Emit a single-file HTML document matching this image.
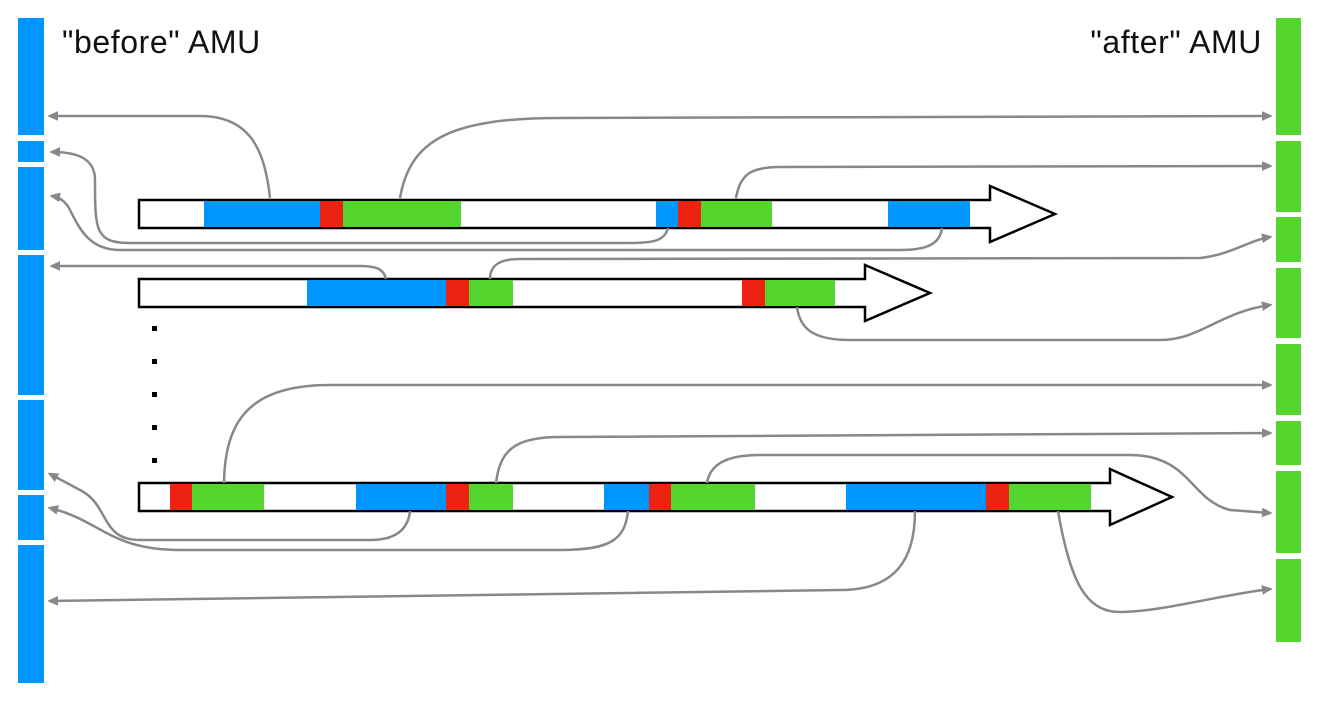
<!DOCTYPE html>
<html><head><meta charset="utf-8"><style>
html,body{margin:0;padding:0;background:#fff;width:1320px;height:706px;overflow:hidden}
svg{display:block}
text{font-family:"Liberation Sans",sans-serif;font-size:32px;letter-spacing:0.6px;fill:#111}
</style></head><body>
<svg width="1320" height="706" viewBox="0 0 1320 706">
<defs>
<marker id="ah" markerWidth="10" markerHeight="10" refX="8" refY="5" orient="auto-start-reverse" markerUnits="userSpaceOnUse">
<path d="M0,1 L9,5 L0,9 Z" fill="#888" stroke="#888" stroke-width="1.5"/>
</marker>
</defs>
<g fill="#0096FF">
<rect x="18" y="18" width="26" height="117"/><rect x="18" y="141" width="26" height="21"/>
<rect x="18" y="167" width="26" height="83"/><rect x="18" y="255" width="26" height="140"/>
<rect x="18" y="400" width="26" height="90"/><rect x="18" y="495" width="26" height="45"/>
<rect x="18" y="545" width="26" height="138"/>
</g>
<g fill="#55D62F">
<rect x="1276" y="18" width="25" height="117"/><rect x="1276" y="141" width="25" height="71"/>
<rect x="1276" y="217" width="25" height="45"/><rect x="1276" y="268" width="25" height="70"/>
<rect x="1276" y="344" width="25" height="71"/><rect x="1276" y="421" width="25" height="44"/>
<rect x="1276" y="471" width="25" height="82"/><rect x="1276" y="559" width="25" height="83"/>
</g>
<text x="62" y="53">"before" AMU</text>
<text x="1262" y="53" text-anchor="end">"after" AMU</text>

<g>
<path d="M139,200 H990 V186 L1055,214 L990,242 V228 H139 Z" fill="#fff" stroke="#000" stroke-width="2.5"/>
<rect x="204" y="201" width="116" height="26" fill="#0096FF"/><rect x="320" y="201" width="23" height="26" fill="#EE2211"/><rect x="343" y="201" width="118" height="26" fill="#55D62F"/>
<rect x="656" y="201" width="22" height="26" fill="#0096FF"/><rect x="678" y="201" width="23" height="26" fill="#EE2211"/><rect x="701" y="201" width="71" height="26" fill="#55D62F"/>
<rect x="888" y="201" width="82" height="26" fill="#0096FF"/>
</g>
<g>
<path d="M139,279 H865 V265 L930,293 L865,321 V307 H139 Z" fill="#fff" stroke="#000" stroke-width="2.5"/>
<rect x="307" y="280" width="139" height="26" fill="#0096FF"/><rect x="446" y="280" width="23" height="26" fill="#EE2211"/><rect x="469" y="280" width="44" height="26" fill="#55D62F"/>
<rect x="742" y="280" width="23" height="26" fill="#EE2211"/><rect x="765" y="280" width="70" height="26" fill="#55D62F"/>
</g>
<g>
<path d="M139,483 H1110 V469 L1172,497 L1110,525 V511 H139 Z" fill="#fff" stroke="#000" stroke-width="2.5"/>
<rect x="170" y="484" width="22" height="26" fill="#EE2211"/><rect x="192" y="484" width="72" height="26" fill="#55D62F"/>
<rect x="356" y="484" width="90" height="26" fill="#0096FF"/><rect x="446" y="484" width="23" height="26" fill="#EE2211"/><rect x="469" y="484" width="44" height="26" fill="#55D62F"/>
<rect x="604" y="484" width="45" height="26" fill="#0096FF"/><rect x="649" y="484" width="22" height="26" fill="#EE2211"/><rect x="671" y="484" width="84" height="26" fill="#55D62F"/>
<rect x="846" y="484" width="140" height="26" fill="#0096FF"/><rect x="986" y="484" width="23" height="26" fill="#EE2211"/><rect x="1009" y="484" width="82" height="26" fill="#55D62F"/>
</g>
<g fill="#000">
<rect x="152" y="326" width="5" height="5"/><rect x="152" y="359" width="5" height="5"/><rect x="152" y="392" width="5" height="5"/><rect x="152" y="425" width="5" height="5"/><rect x="152" y="458" width="5" height="5"/>
</g>
<g fill="none" stroke="#888" stroke-width="2.5">
<path d="M270,198 C265,150 250,116 200,116 L50,116" marker-end="url(#ah)"/>
<path d="M400,198 C410,140 450,118 560,118 L1270,116" marker-end="url(#ah)"/>
<path d="M736,198 C740,175 750,167 780,167 L1270,166" marker-end="url(#ah)"/>
<path d="M668,228 C665,240 655,243 630,243 L130,243 C95,243 95,230 95,180 C95,160 80,152 52,152" marker-end="url(#ah)"/>
<path d="M942,228 C940,245 925,250 900,250 L120,250 C90,250 80,230 70,210 C65,200 58,197 52,196" marker-end="url(#ah)"/>
<path d="M386,279 C384,270 378,266 360,266 L52,266" marker-end="url(#ah)"/>
<path d="M490,279 C490,265 500,259 520,259 L1200,258 C1230,255 1250,240 1270,237" marker-end="url(#ah)"/>
<path d="M797,307 C800,330 815,340 850,340 L1160,340 C1200,340 1220,312 1270,305" marker-end="url(#ah)"/>
<path d="M224,483 C225,420 250,385 330,385 L1270,385" marker-end="url(#ah)"/>
<path d="M496,483 C500,450 515,437 560,437 L1270,433" marker-end="url(#ah)"/>
<path d="M707,483 C710,465 725,455 760,455 L1130,455 C1190,455 1190,500 1230,510 L1270,513" marker-end="url(#ah)"/>
<path d="M410,511 C408,530 395,540 370,540 L140,540 C100,540 110,505 80,490 L50,474" marker-end="url(#ah)"/>
<path d="M628,511 C625,540 610,550 560,550 L180,550 C110,550 100,520 50,508" marker-end="url(#ah)"/>
<path d="M915,511 C915,560 895,590 840,590 L50,601" marker-end="url(#ah)"/>
<path d="M1058,511 C1070,580 1085,612 1120,612 C1160,612 1220,595 1270,589" marker-end="url(#ah)"/>
</g>
</svg>
</body></html>
